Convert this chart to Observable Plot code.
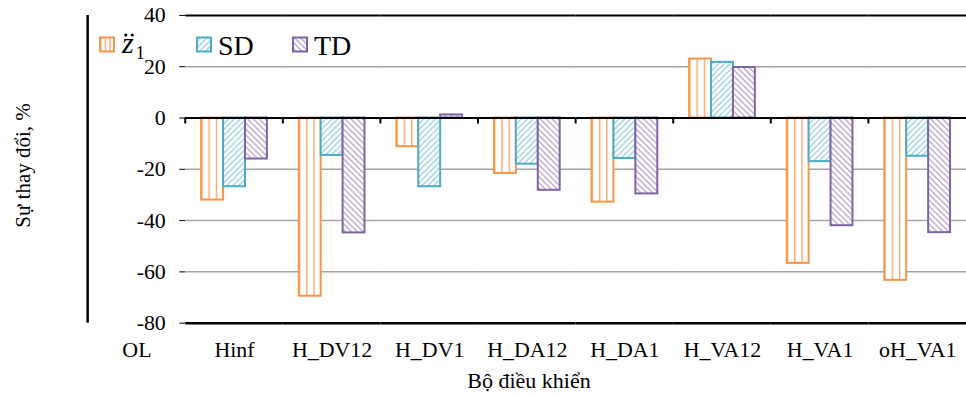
<!DOCTYPE html>
<html><head><meta charset="utf-8">
<script src="https://cdn.jsdelivr.net/npm/d3@7"></script>
<script src="https://cdn.jsdelivr.net/npm/@observablehq/plot@0.6"></script>
<style>
html,body{margin:0;padding:0;background:#fff;overflow:hidden;}
#wrap{position:relative;width:966px;height:396px;overflow:hidden;}
#wrap svg, #wrap svg text, #wrap svg g{font-family:"Liberation Serif","Times New Roman",serif !important;}
#wrap svg text{font-size:22px;}
#overlay{position:absolute;left:0;top:0;pointer-events:none;}
</style></head><body><div id="wrap"></div>
<script>
const controllers = ["OL","Hinf","H_DV12","H_DV1","H_DA12","H_DA1","H_VA12","H_VA1","oH_VA1"];
const series = ["z","SD","TD"];
const zValues  = [0,-32.0,-69.5,-11.2,-21.6,-32.8,23.0,-56.7,-63.3];
const sdValues = [0,-26.8,-14.6,-26.8,-18.0,-15.8,21.7,-17.0,-14.9];
const tdValues = [0,-16.0,-44.8, 1.2,-28.2,-29.6,19.7,-42.0,-44.7];
const yTicks = [40,20,0,-20,-40,-60,-80];
const xTitle = "Bộ điều khiển";
const yTitle = "Sự thay đổi, %";

const rows = [];
controllers.forEach((c, i) => {
  rows.push({ctrl: c, s: "z", v: zValues[i]});
  rows.push({ctrl: c, s: "SD", v: sdValues[i]});
  rows.push({ctrl: c, s: "TD", v: tdValues[i]});
});
const styles = {
  z:  {fill: "url(#pz)",  stroke: "#F79646"},
  SD: {fill: "url(#psd)", stroke: "#4BACC6"},
  TD: {fill: "url(#ptd)", stroke: "#8064A2"}
};

const chart = Plot.plot({
  width: 970, height: 396,
  marginLeft: 88, marginRight: 0, marginTop: 15, marginBottom: 72,
  style: {fontFamily: "'Liberation Serif', 'Times New Roman', serif", fontSize: "22px", color: "#000", background: "#fff"},
  fx: {domain: controllers, padding: 0, label: null, axis: "bottom", tickSize: 0, tickPadding: 18},
  x: {domain: series, paddingInner: 0, paddingOuter: 0.727, axis: null},
  y: {domain: [-80, 40], ticks: yTicks, tickSize: 6, tickPadding: 14, label: null, tickFormat: d => String(d)},
  marks: [
    Plot.ruleY(yTicks.filter(t => t !== 0 && t !== 40 && t !== -80), {stroke: "#A6A6A6", strokeWidth: 1.5}),
    ...series.map(s => Plot.barY(rows.filter(r => r.s === s && r.v !== 0), {
      fx: "ctrl", x: "s", y: "v", fill: styles[s].fill, stroke: styles[s].stroke, strokeWidth: 2
    })),
    Plot.ruleY([0, 40], {stroke: "#000", strokeWidth: 2}),
    Plot.ruleY([-80], {stroke: "#000", strokeWidth: 2.5})
  ]
});

const svg = d3.select(chart);
svg.insert("defs", ":first-child").html(`
  <pattern id="pz" patternUnits="objectBoundingBox" width="0.33333" height="1">
    <rect width="100" height="2000" fill="#fff"/>
    <rect x="0" y="0" width="1.4" height="2000" fill="#F9A86A"/>
  </pattern>
  <pattern id="psd" patternUnits="userSpaceOnUse" width="4.2" height="4.2" patternTransform="rotate(45)">
    <rect width="4.2" height="4.2" fill="#fff"/>
    <line x1="1" y1="-1" x2="1" y2="6" stroke="#9ED3E2" stroke-width="1.4"/>
  </pattern>
  <pattern id="ptd" patternUnits="userSpaceOnUse" width="4.2" height="4.2" patternTransform="rotate(-45)">
    <rect width="4.2" height="4.2" fill="#fff"/>
    <line x1="1" y1="-1" x2="1" y2="6" stroke="#B9A8CE" stroke-width="1.4"/>
  </pattern>`);

const fxS = chart.scale("fx");
const yS = chart.scale("y");
const fxBand = d3.scaleBand().domain(fxS.domain).range(fxS.range)
  .paddingInner(fxS.paddingInner || 0).paddingOuter(fxS.paddingOuter || 0);
const yLin = d3.scaleLinear().domain(yS.domain).range(yS.range);
const y0 = yLin(0);
const axisG = svg.append("g").attr("stroke", "#000");
axisG.append("line").attr("x1", fxS.range[0]).attr("x2", fxS.range[0])
  .attr("y1", yLin(40)).attr("y2", yLin(-80)).attr("stroke-width", 2.5);
controllers.slice(1).forEach(c => {
  const x = fxBand(c);
  axisG.append("line").attr("x1", x).attr("x2", x).attr("y1", y0).attr("y2", y0 + 6).attr("stroke-width", 2);
});
svg.selectAll("text").attr("fill", "#000");

const wrap = document.getElementById("wrap");
wrap.appendChild(chart);

const ov = d3.select(wrap).append("svg").attr("id", "overlay").attr("width", 966).attr("height", 396);
const xMid = (fxS.range[0] + fxS.range[1]) / 2;
ov.append("text").attr("x", xMid).attr("y", 388).attr("text-anchor", "middle")
  .style("font-size", "22px").text(xTitle);
const yMid = (yLin(40) + yLin(-80)) / 2;
ov.append("text").attr("transform", `translate(30,${yMid - 4}) rotate(-90)`).attr("text-anchor", "middle")
  .style("font-size", "21px").text(yTitle);

const leg = ov.append("g");
const items = [
  {s: "z", x: 100},
  {s: "SD", x: 197},
  {s: "TD", x: 293}
];
items.forEach(it => {
  leg.append("rect").attr("x", it.x).attr("y", 37.5).attr("width", 14).attr("height", 14)
    .attr("fill", styles[it.s].fill).attr("stroke", styles[it.s].stroke).attr("stroke-width", 2);
});
// legend label: z with double-dot accent and subscript 1
const zt = leg.append("text").attr("x", 122).attr("y", 53);
zt.append("tspan").style("font-size", "30px").style("font-style", "italic").text("z");
zt.append("tspan").attr("dx", 2).attr("dy", 6).style("font-size", "18px").text("1");
[125.8, 132.2].forEach(cx => leg.append("circle").attr("cx", cx).attr("cy", 35).attr("r", 1.6).attr("fill", "#000"));
leg.append("text").attr("x", 218).attr("y", 55).style("font-size", "28px").text("SD");
leg.append("text").attr("x", 314).attr("y", 55).style("font-size", "28px").text("TD");
</script></body></html>
